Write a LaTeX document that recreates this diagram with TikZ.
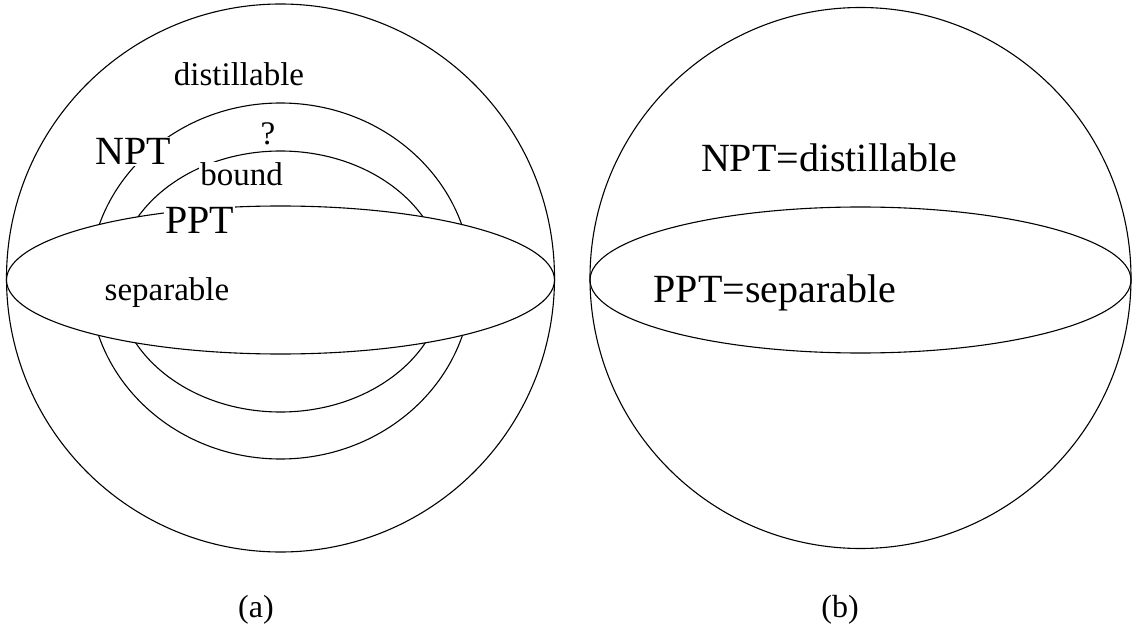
\documentclass[tikz,border=0pt]{standalone}
\usepackage{fontspec}
\setmainfont{Liberation Serif}
\begin{document}
\begin{tikzpicture}[x=1pt,y=-1pt,
  curve/.style={line width=1.1pt,black},
  big/.style={font=\fontsize{40}{48}\selectfont,anchor=base,inner sep=1.5pt},
  small/.style={font=\fontsize{33}{40}\selectfont,anchor=base,inner sep=1.5pt},
  sublabel/.style={font=\fontsize{32}{38}\selectfont,anchor=base,inner sep=0pt}]
\useasboundingbox (0,0) rectangle (1133,631);
\fill[white] (0,0) rectangle (1133,631);
% (a)
\draw[curve] (280.5,278) circle [radius=274];
\draw[curve] (280.5,281) ellipse [x radius=191, y radius=178];
\draw[curve] (280.5,281.5) ellipse [x radius=164, y radius=130.5];
\draw[curve,fill=white] (280.5,280) ellipse [x radius=274, y radius=74];
\node[small] (dist) at (239,86) {distillable};
\node[big,fill=white] (npt) at (133.5,165) {NPT};
\node[small] (q) at (268,145) {?};
\node[small,fill=white] (bound) at (241.5,186) {bound};
\node[big,fill=white] (ppt) at (199.5,234) {PPT};
\node[small] (sep) at (167,301) {separable};
\node[sublabel] (a) at (256,617) {(a)};
% (b)
\draw[curve] (860.5,278) circle [radius=270.5];
\draw[curve] (860.5,280) ellipse [x radius=270.5, y radius=73];
\node[big] (nd) at (829,172) {NPT=distillable};
\node[big] (ps) at (775,302) {PPT=separable};
\node[sublabel] (b) at (840,617) {(b)};
\end{tikzpicture}
\end{document}
